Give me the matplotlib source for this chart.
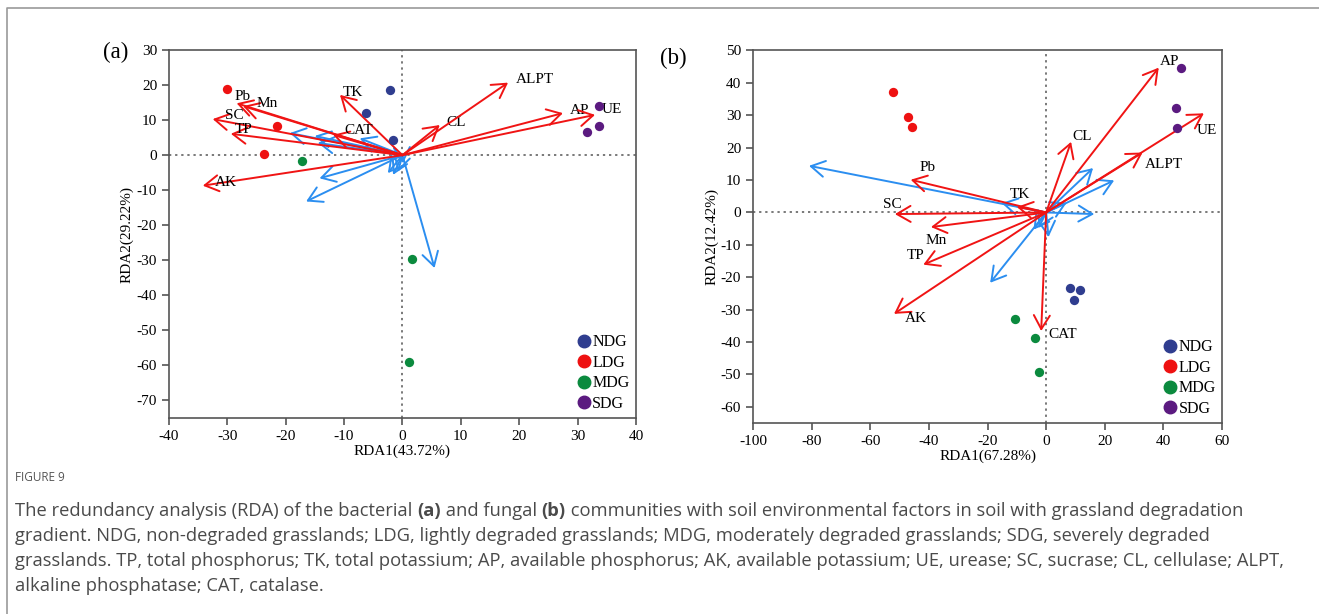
import matplotlib
matplotlib.use("Agg")
import matplotlib.pyplot as plt
from matplotlib.lines import Line2D

plt.rcParams.update({
    "font.family": "Liberation Serif",
    "font.size": 10.5,
    "axes.unicode_minus": False,
    "axes.edgecolor": "#555555",
    "axes.linewidth": 1.2,
    "xtick.color": "#555555",
    "ytick.color": "#555555",
    "xtick.labelcolor": "black",
    "ytick.labelcolor": "black",
    "xtick.labelsize": 11,
    "ytick.labelsize": 11,
    "xtick.major.size": 5,
    "ytick.major.size": 5,
    "xtick.major.width": 1.2,
    "ytick.major.width": 1.2,
})

groups = ["NDG", "LDG", "MDG", "SDG"]
group_colors = ["#2f3d8f", "#ee1111", "#0b8a3e", "#5b1a80"]

# ---- (a) bacterial RDA ----
a_samples_x = {"NDG": [-2.2, -6.2, -1.7], "LDG": [-30.1, -21.5, -23.7],
               "MDG": [-17.2, 1.65, 1.1], "SDG": [33.6, 33.7, 31.6]}
a_samples_y = {"NDG": [18.6, 12.0, 4.4], "LDG": [18.8, 8.2, 0.3],
               "MDG": [-1.7, -29.5, -59.0], "SDG": [13.9, 8.3, 6.7]}
a_env = ["TK", "Pb", "Mn", "SC", "TP", "AK", "CAT", "CL", "ALPT", "AP", "UE"]
a_env_x = [-10.7, -28.4, -27.3, -32.5, -29.4, -34.2, -11.9, 6.4, 18.1, 27.5, 33.0]
a_env_y = [17.2, 14.8, 14.0, 10.3, 6.1, -8.7, 5.8, 8.6, 20.7, 12.0, 11.5]
a_lab_off = [(3, 2), (-2, 7), (13, 3), (12, 4), (4, 4), (12, 3), (11, 4), (7, 3), (8, 3), (7, 3), (7, 5)]
a_sp_x = [-19.3, -15.0, -14.5, -7.3, -14.2, -16.5, -2.5, -1.6, -0.75, 0.1, 5.5]
a_sp_y = [6.3, 5.5, 3.5, 4.8, -6.6, -13.2, -5.1, -5.6, -4.7, -2.3, -32.2]

# ---- (b) fungal RDA ----
b_samples_x = {"NDG": [8.0, 11.6, 9.6], "LDG": [-52.4, -47.1, -45.6],
               "MDG": [-10.5, -3.9, -2.6], "SDG": [46.0, 44.2, 44.7]}
b_samples_y = {"NDG": [-23.3, -24.0, -26.9], "LDG": [37.2, 29.5, 26.4],
               "MDG": [-33.0, -38.7, -49.2], "SDG": [44.7, 32.3, 26.0]}
b_env = ["AP", "UE", "ALPT", "CL", "TK", "Pb", "SC", "Mn", "TP", "AK", "CAT"]
b_env_x = [38.4, 53.8, 32.9, 8.5, -10.0, -46.2, -51.6, -39.3, -41.9, -51.9, -1.7]
b_env_y = [44.7, 30.6, 18.5, 21.8, 1.7, 10.1, -0.5, -4.5, -16.1, -31.3, -36.6]
b_lab_off = [(1, 6), (-7, -17), (2, -12), (1, 5), (-7, 12), (9, 12), (-12, 10), (-5, -13), (-17, 9), (11, -5), (7, -3)]
b_sp_x = [-80.9, 16.0, 23.2, 16.4, 7.0, -15.2, -4.3, -2.6, 0.8, -19.1]
b_sp_y = [14.4, 13.7, 9.9, -0.5, 3.0, 2.9, -5.3, -4.8, -7.6, -21.7]

RED = "#f01414"
BLUE = "#2b8ef0"


def arrow(ax, x, y, color, lw=1.4):
    ax.annotate("", xy=(x, y), xytext=(0, 0),
                arrowprops=dict(arrowstyle="->,head_length=0.55,head_width=0.32",
                                color=color, lw=lw, shrinkA=0, shrinkB=0,
                                mutation_scale=18))


def rda_panel(ax, sx, sy, env, ex, ey, offs, spx, spy, xlim, ylim, xt, yt, xlabel, ylabel):
    ax.axhline(0, color="#555555", ls=(0, (1.5, 2.5)), lw=1.1, zorder=0)
    ax.axvline(0, color="#555555", ls=(0, (1.5, 2.5)), lw=1.1, zorder=0)
    for x, y in zip(spx, spy):
        arrow(ax, x, y, BLUE)
    for name, x, y, off in zip(env, ex, ey, offs):
        arrow(ax, x, y, RED)
        ax.annotate(name, xy=(x, y), xytext=off, textcoords="offset pixels",
                    ha="left", va="center", fontsize=11)
    for g, c in zip(groups, group_colors):
        ax.scatter(sx[g], sy[g], s=45, color=c, zorder=5, linewidths=0)
    handles = [Line2D([], [], ls="", marker="o", ms=9, color=c) for c in group_colors]
    ax.legend(handles, groups, loc="lower right", frameon=False, handletextpad=0.0,
              labelspacing=0.28, borderaxespad=0.1, borderpad=0.3, handlelength=1.0,
              fontsize=11.5)
    ax.set_xlim(xlim)
    ax.set_ylim(ylim)
    ax.set_xticks(xt)
    ax.set_yticks(yt)
    ax.set_xlabel(xlabel, fontsize=11, labelpad=1)
    ax.set_ylabel(ylabel, fontsize=11, labelpad=2)


fig = plt.figure(figsize=(13.19, 6.14), dpi=100)
ax1 = fig.add_axes([0.1281, 0.3192, 0.354, 0.5993])
ax2 = fig.add_axes([0.5709, 0.311, 0.3556, 0.6068])

rda_panel(ax1, a_samples_x, a_samples_y, a_env, a_env_x, a_env_y, a_lab_off,
          a_sp_x, a_sp_y, (-40, 40), (-75, 30), range(-40, 41, 10), range(-70, 31, 10),
          "RDA1(43.72%)", "RDA2(29.22%)")
rda_panel(ax2, b_samples_x, b_samples_y, b_env, b_env_x, b_env_y, b_lab_off,
          b_sp_x, b_sp_y, (-100, 60), (-65, 50), range(-100, 61, 20), range(-60, 51, 10),
          "RDA1(67.28%)", "RDA2(12.42%)")

fig.text(103 / 1319, 1 - 52 / 614, "(a)", fontsize=16.5, va="center", ha="left")
fig.text(660 / 1319, 1 - 58 / 614, "(b)", fontsize=16.5, va="center", ha="left")

# figure frame (left and top edge)
fig.add_artist(Line2D([7 / 1319, 7 / 1319, 1], [0, 1 - 8 / 614, 1 - 8 / 614],
                      transform=fig.transFigure, color="#9a9a9a", lw=1.2))

# caption
cap_font = dict(family="Open Sans", fontsize=13.2, color="#4a4a4a", va="baseline")
fig.text(15 / 1319, 1 - 481 / 614, "FIGURE 9", family="Open Sans", fontsize=8.5,
         color="#555555", va="baseline")
line1 = [("The redundancy analysis (RDA) of the bacterial ", "normal"), ("(a)", "bold"),
         (" and fungal ", "normal"), ("(b)", "bold"),
         (" communities with soil environmental factors in soil with grassland degradation", "normal")]
fig.canvas.draw()
xpos = 15
for txt, wt in line1:
    t = fig.text(xpos / 1319, 1 - 516 / 614, txt, fontweight=wt, **cap_font)
    fig.canvas.draw()
    xpos = t.get_window_extent().x1
cap_lines = [
    "gradient. NDG, non-degraded grasslands; LDG, lightly degraded grasslands; MDG, moderately degraded grasslands; SDG, severely degraded",
    "grasslands. TP, total phosphorus; TK, total potassium; AP, available phosphorus; AK, available potassium; UE, urease; SC, sucrase; CL, cellulase; ALPT,",
    "alkaline phosphatase; CAT, catalase.",
]
for i, s in enumerate(cap_lines):
    fig.text(15 / 1319, 1 - (541 + 25 * i) / 614, s, **cap_font)

fig.savefig("out.png", dpi=100)
